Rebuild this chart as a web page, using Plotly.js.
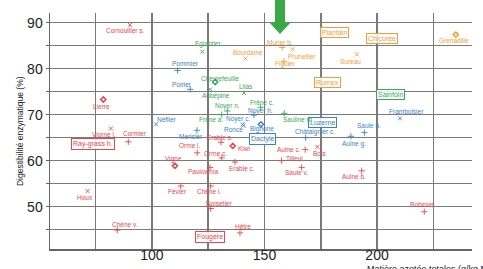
<!DOCTYPE html>
<html><head><meta charset="utf-8">
<script src="https://cdn.plot.ly/plotly-3.0.1.min.js"></script>
<style>html,body{margin:0;padding:0;background:#fff}#chart{width:483px;height:269px}</style>
</head><body><div id="chart"></div>
<script>
// ---- Data (x: matière azotée totales g/kg, y: digestibilité enzymatique %) ----
// kind: 'x' = croix, '+' = plus, 'd' = losange, 'b' = étiquette encadrée
const redNames = ['Cornouiller s.','Lierre','Viorne l.','Cormier','Houx','Chêne v.','Vigne','Orme l.','Orme c.','Erable s.','Kiwi','Paulownia','Erable c.','Févier','Chêne l.','Noisetier','Hêtre','Aulne c.','Tilleul','Bois','Saule v.','Aulne b.','Robinier.','Ray-grass h.','Fougère'];
const redMat = [90.2,78.4,81.8,89.5,71.4,84.6,110.2,120.1,131.0,130.7,135.9,125.8,136.9,112.8,126.1,126.1,139.1,168.1,157.6,173.5,166.5,193.2,221.0,73.6,125.7];
const redDig = [89.5,73.3,67.0,64.1,53.4,44.9,58.9,61.7,60.6,64.0,63.2,58.5,59.7,54.5,54.5,49.6,44.3,62.4,60.0,63.0,58.5,57.8,48.9,63.7,43.5];
const redKind = ['x','d','x','+','x','+','d','+','+','+','d','+','+','+','+','+','+','+','+','x','+','+','+','b','b'];

const blueNames = ['Pommier','Poirier','Néflier','Merisier','Noyer c.','Noyer h.','Ronce','Bignone','Dactyle','Luzerne','Châtaignier c.','Saule b.','Aulne g.','Framboisier'];
const blueMat = [111.4,117.0,101.8,120.0,140.3,145.3,140.7,148.4,149.1,175.6,168.3,194.4,188.4,210.2];
const blueDig = [79.6,75.5,67.9,66.6,67.9,69.9,67.6,67.9,64.8,68.2,65.0,66.1,65.3,69.2];
const blueKind = ['+','+','x','+','x','+','x','d','b','b','+','+','+','x'];

const greenNames = ['Eglantier','Chèvrefeuille','Lilas','Aubépine','Noyer n.','Frêne a.','Frêne c.','Sauline m.','Sainfoin'];
const greenMat = [122.4,128.1,140.9,125.9,133.5,131.0,148.3,158.8,205.8];
const greenDig = [83.7,77.1,74.7,75.5,70.8,70.0,71.6,70.3,74.3];
const greenKind = ['x','d','x','x','+','+','+','+','b'];

const orangeNames = ['Bourdaine','Murier b.','Prunellier','Figuier','Sureau','Grenadille','Plantain','Chicorée','Rumex'];
const orangeMat = [141.6,157.9,162.5,158.6,191.0,235.0,180.9,202.4,177.9];
const orangeDig = [82.2,84.6,84.2,81.6,83.1,87.4,87.9,86.5,77.0];
const orangeKind = ['x','+','x','+','x','d','b','b','b'];

const xTickVals = [75,100,125,150,175,200,225];
const xTickText = ['','100','','150','','200',''];
const yTickVals = [45,50,55,60,65,70,75,80,85,90];
const yTickText = ['','50','','60','','70','','80','','90'];

// ---- Label placement (pixel offsets of each label from its point) ----
const redDx = [-5,-2,-7,7,-3,8,-1,-7,-6,-1,11,-7,7,-3,-2,8,3,-16,13,2,-5,-8,-1,0,0];
const redDy = [-6,-7,-6,8,-6,6,7,7,4,5,-3,-4,-6,-6,-6,5,6,0,2,-7,-5,-6,7,0,0];
const blueDx = [8,-8,11,-6,-5,7,-10,1,0,0,9,5,3,7];
const blueDy = [7,5,5,-6,5,4,-4,-5,0,0,6,7,-8,7];
const greenDx = [6,5,2,6,0,-11,1,14,0];
const greenDy = [8,4,7,-7,5,-5,5,-6,0];
const orangeDx = [2,-2,9,2,-6,-2,0,0,0];
const orangeDy = [6,5,-7,-3,-7,-6,0,0,0];

// ---- Styles ----
const groups = [
  {names: redNames, mat: redMat, dig: redDig, kind: redKind, dx: redDx, dy: redDy, color: '#e8464e'},
  {names: blueNames, mat: blueMat, dig: blueDig, kind: blueKind, dx: blueDx, dy: blueDy, color: '#3c83c6'},
  {names: greenNames, mat: greenMat, dig: greenDig, kind: greenKind, dx: greenDx, dy: greenDy, color: '#38a85a'},
  {names: orangeNames, mat: orangeMat, dig: orangeDig, kind: orangeKind, dx: orangeDx, dy: orangeDy, color: '#f39c38'}
];
const symbolOf = {'x': 'x-thin-open', '+': 'cross-thin-open', 'd': 'diamond-open'};
const sizeOf = {'x': 4, '+': 4.5, 'd': 4};
const lineWOf = {'x': 0.9, '+': 0.9, 'd': 1.5};

const traces = [];
const annotations = [];
const labelFont = 'Liberation Sans, Arial, sans-serif';

groups.forEach(g => {
  ['x','+','d'].forEach(k => {
    const xs = [], ys = [], tx = [];
    g.kind.forEach((kk, i) => { if (kk === k) { xs.push(g.mat[i]); ys.push(g.dig[i]); tx.push(g.names[i]); } });
    if (xs.length) traces.push({
      type: 'scatter', mode: 'markers', x: xs, y: ys, text: tx, hoverinfo: 'text',
      marker: {symbol: symbolOf[k], size: sizeOf[k], color: g.color, line: {color: g.color, width: lineWOf[k]}},
      showlegend: false, cliponaxis: false
    });
  });
  g.names.forEach((n, i) => {
    const boxed = g.kind[i] === 'b';
    const a = {
      x: g.mat[i], y: g.dig[i], xref: 'x', yref: 'y', text: n, showarrow: false,
      xshift: g.dx[i], yshift: g.dy[i],
      font: {family: labelFont, size: boxed ? 7 : 6.5, color: g.color}
    };
    if (boxed) { a.bordercolor = g.color; a.borderwidth = 1; a.borderpad = 1; a.bgcolor = 'rgba(255,255,255,0.85)'; }
    annotations.push(a);
  });
});

// axis titles
annotations.push({
  xref: 'paper', yref: 'paper', x: -0.071, y: 0.5, text: 'Digestibilité enzymatique (%)',
  textangle: -90, showarrow: false, xanchor: 'center', yanchor: 'middle',
  font: {family: labelFont, size: 8.5, color: '#222'}
});
annotations.push({
  xref: 'paper', yref: 'paper', x: 0.746, y: -0.085, text: 'Matière azotée totales (g/kg MS)',
  showarrow: false, xanchor: 'left', yanchor: 'middle',
  font: {family: labelFont, size: 9, color: '#222'}
});

const layout = {
  width: 483, height: 269,
  margin: {l: 50, r: 11, t: 13, b: 20, pad: 0},
  paper_bgcolor: '#ffffff', plot_bgcolor: '#ffffff',
  showlegend: false,
  xaxis: {
    range: [54.7, 242.2], tickmode: 'array', tickvals: xTickVals, ticktext: xTickText,
    showgrid: true, gridcolor: '#7a7a7a', gridwidth: 1.5, zeroline: false,
    showline: true, linecolor: '#666', linewidth: 1.5, ticks: '', ticklabelstandoff: -7,
    tickfont: {family: labelFont, size: 14, color: '#222'}
  },
  yaxis: {
    range: [40.8, 92.1], tickmode: 'array', tickvals: yTickVals, ticktext: yTickText,
    showgrid: true, gridcolor: '#7a7a7a', gridwidth: 1.5, zeroline: false,
    showline: true, linecolor: '#666', linewidth: 1.5, ticks: 'outside', ticklen: 3, tickcolor: '#666',
    tickfont: {family: labelFont, size: 14, color: '#222'}
  },
  annotations: annotations,
  shapes: [{
    type: 'path', xref: 'paper', yref: 'paper', layer: 'above',
    path: 'M0.5332,1.07 L0.5569,1.07 L0.5569,0.9619 L0.5711,0.9619 L0.5450,0.9110 L0.5190,0.9619 L0.5332,0.9619 Z',
    fillcolor: '#3aa846', line: {width: 0}
  }]
};

Plotly.newPlot('chart', traces, layout, {displayModeBar: false, staticPlot: true});
</script>
</body></html>
